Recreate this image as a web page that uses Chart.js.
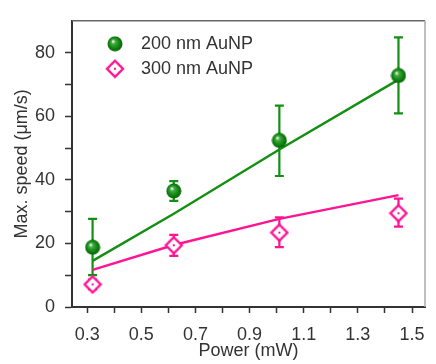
<!DOCTYPE html>
<html>
<head>
<meta charset="utf-8">
<script src="https://cdn.jsdelivr.net/npm/chart.js@4.4.1/dist/chart.umd.min.js"></script>
<style>
  html, body { margin: 0; padding: 0; background: #fff; }
  #wrap { width: 436px; height: 364px; position: relative; }
</style>
</head>
<body>
<div id="wrap"><canvas id="speedChart"></canvas></div>
<script>
// laser power (mW)
const power = [0.32, 0.62, 1.01, 1.45];

// 200 nm AuNP
const speed200 = [18.8, 36.5, 52.4, 72.8];
const low200 = [10.0, 33.4, 41.2, 60.9];
const high200 = [27.7, 39.6, 63.3, 84.8];
const fit200 = [14.5, 29.3, 49.5, 71.5];

// 300 nm AuNP
const speed300 = [7.1, 19.4, 23.4, 29.5];
const low300 = [5.6, 16.1, 18.8, 25.3];
const high300 = [8.6, 22.7, 28.2, 34.1];
const fit300 = [11.7, 19.5, 27.7, 35.2];

const xMajor = [0.3, 0.5, 0.7, 0.9, 1.1, 1.3, 1.5];
const xMinor = [0.4, 0.6, 0.8, 1.0, 1.2, 1.4];
const yMajor = [0, 20, 40, 60, 80];
const yMinor = [10, 30, 50, 70];

const GREEN = '#139013';
const PINK = '#ff1493';
const FONT = { family: '"Liberation Sans", Arial, sans-serif', size: 18 };

function makeBall() {
  const c = document.createElement('canvas');
  c.width = 16; c.height = 16;
  const g = c.getContext('2d');
  const grad = g.createRadialGradient(6, 5.5, 0.5, 8, 8, 8);
  grad.addColorStop(0, '#e6f5e6');
  grad.addColorStop(0.22, '#45aa45');
  grad.addColorStop(0.6, '#138a13');
  grad.addColorStop(1, '#045c04');
  g.fillStyle = grad;
  g.beginPath();
  g.arc(8, 8, 7.5, 0, Math.PI * 2);
  g.fill();
  return c;
}

function makeDiamond() {
  const c = document.createElement('canvas');
  c.width = 20; c.height = 20;
  const g = c.getContext('2d');
  g.fillStyle = '#fff';
  g.strokeStyle = PINK;
  g.lineWidth = 2.4;
  g.beginPath();
  g.moveTo(10, 2); g.lineTo(18, 10); g.lineTo(10, 18); g.lineTo(2, 10);
  g.closePath();
  g.fill(); g.stroke();
  g.fillStyle = PINK;
  g.fillRect(9, 9, 2, 2);
  return c;
}

const ball = makeBall();
const diamond = makeDiamond();

const toPts = (xs, ys) => xs.map((x, i) => ({ x: x, y: ys[i] }));

const errorBars = {
  id: 'errorBars',
  beforeDatasetsDraw(chart) {
    const { ctx, scales: { x, y } } = chart;
    const sets = [[low200, high200, GREEN], [low300, high300, PINK]];
    ctx.save();
    ctx.lineWidth = 2.2;
    sets.forEach(([lo, hi, col]) => {
      ctx.strokeStyle = col;
      power.forEach((p, i) => {
        const px = x.getPixelForValue(p);
        const y1 = y.getPixelForValue(lo[i]);
        const y2 = y.getPixelForValue(hi[i]);
        ctx.beginPath();
        ctx.moveTo(px, y1); ctx.lineTo(px, y2);
        ctx.moveTo(px - 4.5, y1); ctx.lineTo(px + 4.5, y1);
        ctx.moveTo(px - 4.5, y2); ctx.lineTo(px + 4.5, y2);
        ctx.stroke();
      });
    });
    ctx.restore();
  },
  afterDraw(chart) {
    const { ctx, chartArea: a } = chart;
    ctx.save();
    ctx.lineWidth = 1.5;
    ctx.strokeStyle = '#666';
    ctx.beginPath(); ctx.moveTo(a.left, a.top); ctx.lineTo(a.right, a.top); ctx.stroke();
    ctx.strokeStyle = '#aaa';
    ctx.beginPath(); ctx.moveTo(a.right, a.top); ctx.lineTo(a.right, a.bottom); ctx.stroke();

    // legend
    const items = [[ball, '200 nm AuNP'], [diamond, '300 nm AuNP']];
    ctx.font = '18px "Liberation Sans", Arial, sans-serif';
    ctx.fillStyle = '#333';
    ctx.textBaseline = 'middle';
    items.forEach(([img, text], i) => {
      const cy = a.top + 23 + i * 25;
      ctx.drawImage(img, a.left + 43 - img.width / 2, cy - img.height / 2);
      ctx.fillText(text, a.left + 69, cy);
    });
    ctx.restore();
  }
};

new Chart(document.getElementById('speedChart'), {
  type: 'scatter',
  data: {
    datasets: [
      {
        label: '200 nm AuNP',
        data: toPts(power, speed200),
        pointStyle: ball,
        pointRadius: 8
      },
      {
        label: '300 nm AuNP',
        data: toPts(power, speed300),
        pointStyle: diamond,
        pointRadius: 10
      },
      {
        label: 'fit 200',
        data: toPts(power, fit200),
        showLine: true,
        borderColor: GREEN,
        borderWidth: 2.4,
        pointRadius: 0
      },
      {
        label: 'fit 300',
        data: toPts(power, fit300),
        showLine: true,
        borderColor: PINK,
        borderWidth: 2.4,
        pointRadius: 0
      }
    ]
  },
  options: {
    responsive: true,
    maintainAspectRatio: false,
    animation: false,
    layout: { padding: { top: 12, right: 2, left: 0, bottom: 0 } },
    plugins: {
      legend: { display: false },
      tooltip: { enabled: false }
    },
    scales: {
      x: {
        type: 'linear',
        min: 0.244,
        max: 1.548,
        afterFit: s => { s.height = 57; },
        afterBuildTicks: s => {
          s.ticks = xMajor.concat(xMinor).sort((a, b) => a - b).map(v => ({ value: v }));
        },
        ticks: {
          autoSkip: false,
          maxRotation: 0,
          padding: 11,
          color: '#333',
          font: FONT,
          callback: v => (xMajor.includes(v) ? v.toFixed(1) : '')
        },
        grid: { drawOnChartArea: false, tickLength: 6, tickColor: '#333', tickWidth: 1.5 },
        border: { color: '#333', width: 2 },
        title: {
          display: true,
          text: 'Power (mW)',
          color: '#333',
          font: FONT,
          padding: { top: 0, bottom: 2 }
        }
      },
      y: {
        min: 0,
        max: 90,
        afterFit: s => { s.width = 72; },
        afterBuildTicks: s => {
          s.ticks = yMajor.concat(yMinor).sort((a, b) => a - b).map(v => ({ value: v }));
        },
        ticks: {
          autoSkip: false,
          padding: 10,
          color: '#333',
          font: FONT,
          callback: v => (yMajor.includes(v) ? String(v) : '')
        },
        grid: { drawOnChartArea: false, tickLength: 7, tickColor: '#333', tickWidth: 1.5 },
        border: { color: '#333', width: 2 },
        title: {
          display: true,
          text: 'Max. speed (\u03bcm/s)',
          color: '#333',
          font: FONT,
          padding: { top: 11, bottom: 0 }
        }
      }
    }
  },
  plugins: [errorBars]
});
</script>
</body>
</html>
